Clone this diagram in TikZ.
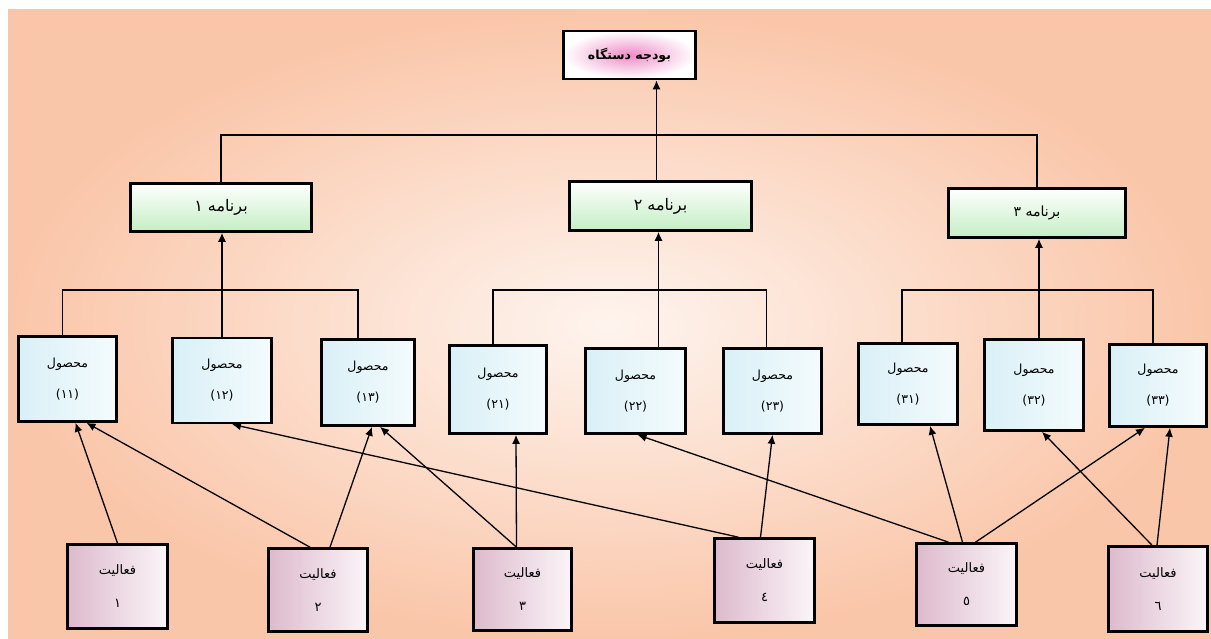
\documentclass[tikz,border=0pt]{standalone}
\usepackage{fontspec}
\usetikzlibrary{arrows.meta}
\newfontfamily\arabicfont[Script=Arabic]{DejaVu Sans}
\TeXXeTstate=1
\definecolor{peach}{HTML}{FAC6A9}
\definecolor{peachlight}{HTML}{FEF4EE}
\definecolor{topink}{HTML}{EE8CC8}
\definecolor{progg}{HTML}{C4EEC4}
\definecolor{prodc}{HTML}{D9F0F7}
\definecolor{prodw}{HTML}{F4FBFD}
\definecolor{actp}{HTML}{DDBACD}
\definecolor{actw}{HTML}{FBF5F8}
\tikzset{
  box/.style={draw=black, line width=2.6pt, inner sep=0pt, anchor=center, align=center, text=black},
  topbox/.style={box, minimum width=132pt, minimum height=48pt, inner color=topink, outer color=white,
     font=\arabicfont\bfseries\fontsize{12.5}{14}\selectfont},
  progbox/.style={box, minimum width=181pt, minimum height=48pt, top color=white, bottom color=progg,
     font=\arabicfont\fontsize{16}{18}\selectfont},
  prodbox/.style={box, minimum width=98pt, minimum height=85pt, left color=prodc, right color=prodw,
     font=\arabicfont\fontsize{12.5}{31}\selectfont},
  actbox/.style={box, minimum width=99pt, minimum height=83pt, left color=actp, right color=actw,
     font=\arabicfont\fontsize{13}{33}\selectfont},
  conn/.style={line width=1.3pt, draw=black},
  arr/.style={line width=1.3pt, draw=black, -{Latex[length=9pt,width=8pt]}},
}
\begin{document}
\begin{tikzpicture}[x=1pt,y=-1pt]
\useasboundingbox (0,0) rectangle (1211,639);
\shade[inner color=peachlight, outer color=peach] (8,10) rectangle (1211,639);

% top
\node[topbox] (top) at (629.5,55) {\beginR بودجه دستگاه\endR};
% programs
\node[progbox] (prog1) at (221,207.5) {\beginR برنامه ۱\endR};
\node[progbox, minimum width=182pt, minimum height=49pt] (prog2) at (660.5,206) {\beginR برنامه ۲\endR};
\node[progbox, minimum width=177pt, minimum height=49pt, font=\arabicfont\fontsize{14}{16}\selectfont] (prog3) at (1037,213) {\beginR برنامه ۳\endR};
% products
\node[prodbox] (p11) at (67.5,379) {\beginR محصول\endR\\(۱۱)};
\node[prodbox, minimum width=99pt] (p12) at (222,380.5) {\beginR محصول\endR\\(۱۲)};
\node[prodbox, minimum width=93pt, minimum height=86pt] (p13) at (368,382.5) {\beginR محصول\endR\\(۱۳)};
\node[prodbox, minimum width=97pt, minimum height=88pt] (p21) at (498,389.5) {\beginR محصول\endR\\(۲۱)};
\node[prodbox, minimum width=100pt] (p22) at (635.5,391) {\beginR محصول\endR\\(۲۲)};
\node[prodbox] (p23) at (772.5,391) {\beginR محصول\endR\\(۲۳)};
\node[prodbox, minimum width=99pt, minimum height=81pt] (p31) at (908,384) {\beginR محصول\endR\\(۳۱)};
\node[prodbox, minimum width=99pt, minimum height=91pt] (p32) at (1034,385) {\beginR محصول\endR\\(۳۲)};
\node[prodbox, minimum width=97pt, minimum height=82pt] (p33) at (1158,385.5) {\beginR محصول\endR\\(۳۳)};
% activities
\node[actbox, minimum width=100pt, minimum height=84pt] (a1) at (117.5,586.5) {\beginR فعالیت\endR\\۱};
\node[actbox] (a2) at (318,590) {\beginR فعالیت\endR\\۲};
\node[actbox, minimum width=98pt, minimum height=82pt] (a3) at (522.5,589.5) {\beginR فعالیت\endR\\۳};
\node[actbox, minimum width=100pt, minimum height=84pt] (a4) at (764.5,580.5) {\beginR فعالیت\endR\\٤};
\node[actbox, minimum width=100pt, minimum height=82pt] (a5) at (966.5,584.5) {\beginR فعالیت\endR\\٥};
\node[actbox, minimum height=85pt] (a6) at (1158,589) {\beginR فعالیت\endR\\٦};

% bus coordinates
\coordinate (bus0) at (0,135);
\coordinate (bus1) at (0,290);

% top level
\draw[conn] (prog1.north) -- (prog1.north |- bus0) -- (prog3.north |- bus0) -- (prog3.north);
\draw[arr] ([xshift=-4pt]prog2.north) -- ([xshift=-4pt]prog2.north |- top.south);

% program 1
\draw[conn] ([xshift=-5pt]p11.north) -- ([xshift=-5pt]p11.north |- bus1) -- ([xshift=-10pt]p13.north |- bus1) -- ([xshift=-10pt]p13.north);
\draw[arr] (p12.north) -- (p12.north |- prog1.south);
% program 2
\draw[conn] ([xshift=-5pt]p21.north) -- ([xshift=-5pt]p21.north |- bus1) -- ([xshift=-6pt]p23.north |- bus1) -- ([xshift=-6pt]p23.north);
\draw[arr] ([xshift=23pt]p22.north) -- ([xshift=23pt]p22.north |- prog2.south);
% program 3
\draw[conn] ([xshift=-6pt]p31.north) -- ([xshift=-6pt]p31.north |- bus1) -- ([xshift=-5pt]p33.north |- bus1) -- ([xshift=-5pt]p33.north);
\draw[arr] ([xshift=5pt]p32.north) -- ([xshift=5pt]p32.north |- prog3.south);

% activity -> product
\draw[arr] (a1.north) -- ([xshift=8pt]p11.south);
\draw[arr] ([xshift=-8pt]a2.north) -- ([xshift=19pt]p11.south);
\draw[arr] ([xshift=12pt]a2.north) -- ([xshift=4pt]p13.south);
\draw[arr] ([xshift=-6pt]a3.north) -- ([xshift=12pt]p13.south);
\draw[arr] ([xshift=-6pt]a3.north) -- ([xshift=18pt]p21.south);
\draw[arr] ([xshift=-26pt]a4.north) -- ([xshift=10pt]p12.south);
\draw[arr] ([xshift=-4pt]a4.north) -- (p23.south);
\draw[arr] ([xshift=-18pt]a5.north) -- ([xshift=2pt]p22.south);
\draw[arr] ([xshift=-4pt]a5.north) -- ([xshift=22pt]p31.south);
\draw[arr] ([xshift=9pt]a5.north) -- ([xshift=-13pt]p33.south);
\draw[arr] ([xshift=-6pt]a6.north) -- ([xshift=8pt]p32.south);
\draw[arr] ([xshift=-1pt]a6.north) -- ([xshift=12pt]p33.south);
\end{tikzpicture}
\end{document}
